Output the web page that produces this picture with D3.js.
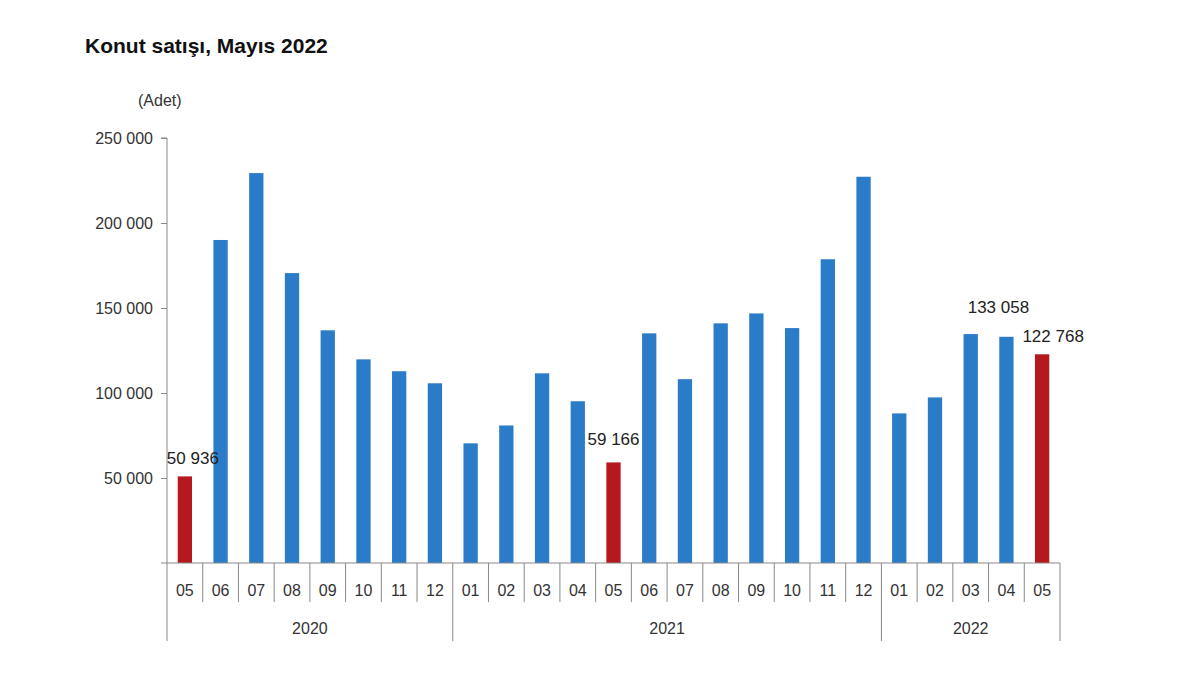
<!DOCTYPE html>
<html>
<head>
<meta charset="utf-8">
<script src="https://cdn.jsdelivr.net/npm/d3@7"></script>
<style>
  body { margin: 0; background: #fff; }
  svg { display: block; font-family: "Liberation Sans", Arial, sans-serif; }
</style>
</head>
<body>
<div id="chart"></div>
<script>
// Konut satışı data, 2020-05 .. 2022-05
const years = ["2020", "2021", "2022"];
const months = ["05", "06", "07", "08", "09", "10", "11", "12",
  "01", "02", "03", "04", "05", "06", "07", "08", "09", "10", "11", "12",
  "01", "02", "03", "04", "05"];
const monthYear = ["2020", "2020", "2020", "2020", "2020", "2020", "2020", "2020",
  "2021", "2021", "2021", "2021", "2021", "2021", "2021", "2021", "2021", "2021", "2021", "2021",
  "2022", "2022", "2022", "2022", "2022"];
const sales = [50936, 190012, 229357, 170537, 136875, 119786, 112809, 105720,
  70379, 80896, 111578, 95153, 59166, 135085, 108139, 140971, 146805, 138190, 178679, 227205,
  88000, 97398, 134647, 133058, 122768];
const highlighted = [0, 12, 24];        // May bars drawn in red
const labelled = [0, 12, 23, 24];       // bars carrying a value label
const yTicks = [50000, 100000, 150000, 200000, 250000];

const width = 1200;
const height = 675;
const margin = { left: 167, right: 140, top: 138, bottom: 112 };

const svg = d3.select("#chart")
  .append("svg")
  .attr("width", width)
  .attr("height", height);

const fmt = v => d3.format(",")(v).replace(/,/g, " ");

const x = d3.scaleBand()
  .domain(d3.range(months.length))
  .range([margin.left, width - margin.right])
  .paddingInner(0.6)
  .paddingOuter(0.3);

const y = d3.scaleLinear()
  .domain([0, 250000])
  .range([height - margin.bottom, margin.top]);

const baseY = y(0);
const step = x.step();
const bandLeft = i => margin.left + i * (width - margin.left - margin.right) / months.length;

// title and unit
svg.append("text")
  .attr("x", 85).attr("y", 53)
  .attr("font-size", 21).attr("font-weight", "bold").attr("fill", "#111")
  .text("Konut satışı, Mayıs 2022");

svg.append("text")
  .attr("x", 138).attr("y", 106)
  .attr("font-size", 16).attr("fill", "#333")
  .text("(Adet)");

// y axis
const yAxis = d3.axisLeft(y)
  .tickValues(yTicks)
  .tickSize(6)
  .tickFormat(fmt);

const gy = svg.append("g")
  .attr("transform", `translate(${margin.left},0)`)
  .call(yAxis);
gy.select(".domain").attr("stroke", "#888").attr("d", `M-6,${y(250000)}H0V${baseY}`);
gy.selectAll(".tick line").attr("stroke", "#888");
gy.selectAll(".tick text")
  .attr("x", -14)
  .attr("font-size", 16)
  .attr("font-family", "Liberation Sans, Arial, sans-serif")
  .attr("fill", "#333");

// bars
svg.append("g")
  .selectAll("rect")
  .data(sales)
  .join("rect")
  .attr("x", (d, i) => bandLeft(i) + (step - x.bandwidth()) / 2)
  .attr("y", d => y(d))
  .attr("width", x.bandwidth())
  .attr("height", d => baseY - y(d))
  .attr("fill", (d, i) => highlighted.includes(i) ? "#B5191D" : "#2A7BC8");

// value labels (positions nudged like the original)
const labelNudge = { 0: [8, -12], 12: [0, -17], 23: [-8, -24], 24: [11, -12] };
svg.append("g")
  .selectAll("text")
  .data(labelled)
  .join("text")
  .attr("x", i => bandLeft(i) + step / 2 + labelNudge[i][0])
  .attr("y", i => y(sales[i]) + labelNudge[i][1])
  .attr("text-anchor", "middle")
  .attr("font-size", 17)
  .attr("fill", "#222")
  .text(i => fmt(sales[i]));

// category axis
const axisG = svg.append("g").attr("stroke", "#888").attr("fill", "none");
axisG.append("line")
  .attr("x1", margin.left - 6).attr("x2", bandLeft(months.length))
  .attr("y1", baseY).attr("y2", baseY);

d3.range(months.length + 1).forEach(i => {
  const isYearEdge = i === 0 || i === months.length || monthYear[i] !== monthYear[i - 1];
  axisG.append("line")
    .attr("x1", bandLeft(i)).attr("x2", bandLeft(i))
    .attr("y1", baseY).attr("y2", isYearEdge ? baseY + 78 : baseY + 39);
});

svg.append("g")
  .selectAll("text")
  .data(months)
  .join("text")
  .attr("x", (d, i) => bandLeft(i) + step / 2)
  .attr("y", baseY + 33)
  .attr("text-anchor", "middle")
  .attr("font-size", 16)
  .attr("fill", "#333")
  .text(d => d);

svg.append("g")
  .selectAll("text")
  .data(years)
  .join("text")
  .attr("x", yr => {
    const idx = monthYear.map((m, i) => m === yr ? i : -1).filter(i => i >= 0);
    return (bandLeft(idx[0]) + bandLeft(idx[idx.length - 1] + 1)) / 2;
  })
  .attr("y", baseY + 71)
  .attr("text-anchor", "middle")
  .attr("font-size", 16)
  .attr("fill", "#333")
  .text(d => d);
</script>
</body>
</html>
